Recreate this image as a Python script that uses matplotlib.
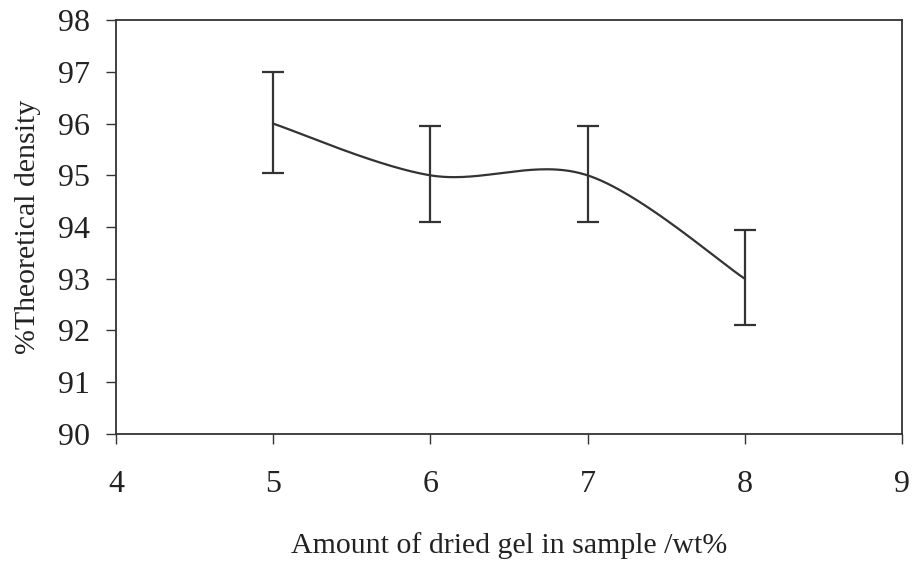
import numpy as np
import matplotlib
matplotlib.use("Agg")
from matplotlib import pyplot as plt

# --- data
gel_wt = [5, 6, 7, 8]
density = [96.0, 95.0, 95.0, 93.0]
err_low = [0.95, 0.9, 0.9, 0.9]
err_high = [1.0, 0.95, 0.95, 0.95]


def smooth_curve(x, y, n=60):
    # Catmull-Rom style smoothing (like a spreadsheet "smoothed line")
    x = np.asarray(x, float)
    y = np.asarray(y, float)
    xs, ys = [], []
    for i in range(len(x) - 1):
        i0, i3 = max(i - 1, 0), min(i + 2, len(x) - 1)
        mx0 = (x[i + 1] - x[i0]) / 2
        my0 = (y[i + 1] - y[i0]) / 2
        mx1 = (x[i3] - x[i]) / 2
        my1 = (y[i3] - y[i]) / 2
        t = np.linspace(0, 1, n)
        h00 = 2 * t**3 - 3 * t**2 + 1
        h10 = t**3 - 2 * t**2 + t
        h01 = -2 * t**3 + 3 * t**2
        h11 = t**3 - t**2
        xs.append(h00 * x[i] + h10 * mx0 + h01 * x[i + 1] + h11 * mx1)
        ys.append(h00 * y[i] + h10 * my0 + h01 * y[i + 1] + h11 * my1)
    return np.concatenate(xs), np.concatenate(ys)


plt.rcParams["font.family"] = ["Liberation Serif", "DejaVu Serif"]
col = "#333333"

fig = plt.figure(figsize=(9.13, 5.62), dpi=100)
ax = fig.add_axes([0.127, 0.228, 0.861, 0.736])

sx, sy = smooth_curve(gel_wt, density)
ax.plot(sx, sy, color=col, linewidth=1.6)
ax.errorbar(gel_wt, density, yerr=[err_low, err_high], fmt="none",
            ecolor=col, elinewidth=1.6, capsize=8, capthick=1.6)

ax.set_xlim(4, 9)
ax.set_ylim(90, 98)
ax.set_xticks(range(4, 10))
ax.set_yticks(range(90, 99))

for s in ax.spines.values():
    s.set_color(col)
    s.set_linewidth(1.3)

ax.tick_params(axis="x", direction="out", length=7, width=1, color=col,
               pad=19, labelsize=23, labelcolor="#222222")
ax.tick_params(axis="y", direction="out", length=7, width=1, color=col,
               pad=12, labelsize=23, labelcolor="#222222")

ax.set_xlabel("Amount of dried gel in sample /wt%", fontsize=21.5,
              color="#222222", labelpad=24)
ax.set_ylabel("%Theoretical density", fontsize=21.5, color="#222222",
              labelpad=12)

fig.savefig("out.png", dpi=100)
